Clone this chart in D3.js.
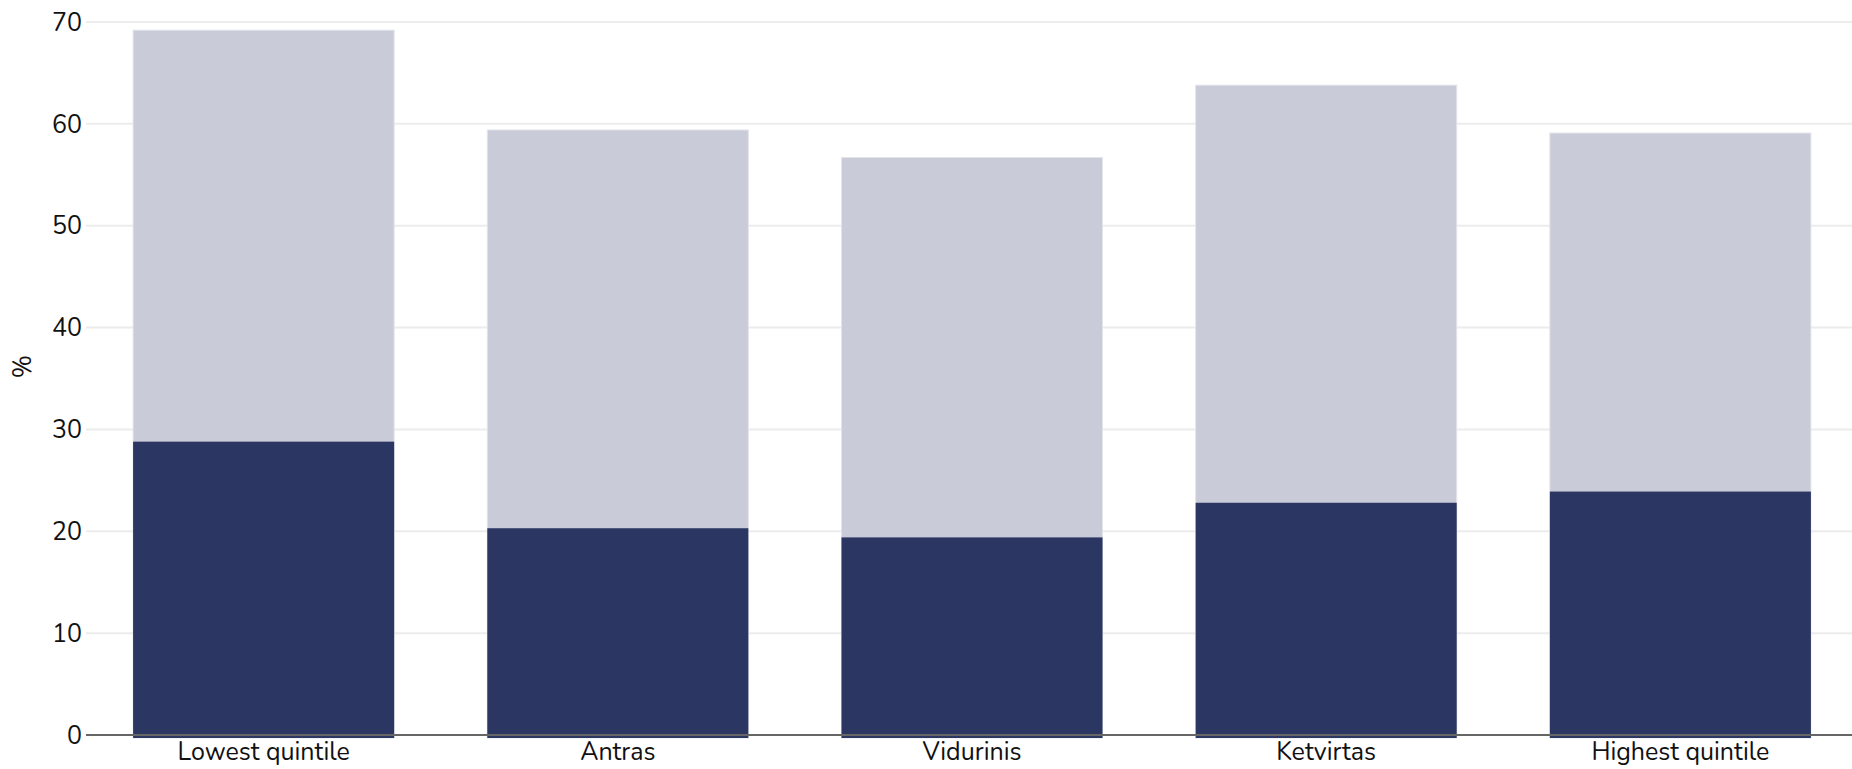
<!DOCTYPE html>
<html>
<head>
<meta charset="utf-8">
<script src="https://cdn.jsdelivr.net/npm/d3@7"></script>
<style>
  body { margin: 0; background: #fff; }
  svg { display: block; font-family: "Nunito", "Lato", "Noto Sans", sans-serif; }
</style>
</head>
<body>
<svg id="chart"></svg>
<script>
// data
const categories = ["Lowest quintile", "Antras", "Vidurinis", "Ketvirtas", "Highest quintile"];
const totalValues = [69.2, 59.4, 56.7, 63.8, 59.1];
const partValues = [28.8, 20.3, 19.4, 22.8, 23.9];
const yTicks = [0, 10, 20, 30, 40, 50, 60, 70];

const width = 1852, height = 769;
const margin = { top: 22, right: -6, bottom: 34, left: 86 };

const svg = d3.select('#chart').attr('width', width).attr('height', height);

const x = d3.scaleBand()
    .domain(categories)
    .range([margin.left, width - margin.right])
    .paddingInner(0.263)
    .paddingOuter(0.133);

const y = d3.scaleLinear()
    .domain([0, 70])
    .range([height - margin.bottom, margin.top]);

// gridlines
svg.append('g')
    .selectAll('line')
    .data(yTicks.filter(d => d > 0))
    .enter()
    .append('line')
    .attr('x1', margin.left)
    .attr('x2', width)
    .attr('y1', d => y(d))
    .attr('y2', d => y(d))
    .attr('stroke', '#ececec')
    .attr('stroke-width', 2);

// tick labels
svg.append('g')
    .selectAll('text')
    .data(yTicks)
    .enter()
    .append('text')
    .attr('x', margin.left - 4)
    .attr('y', d => y(d))
    .attr('dy', '0.35em')
    .attr('text-anchor', 'end')
    .style('font-size', '25px')
    .style('fill', '#111')
    .text(d => d);

// y title
svg.append('text')
    .attr('transform', `translate(22, ${(margin.top + height - margin.bottom) / 2 - 12}) rotate(-90)`)
    .attr('dy', '0.35em')
    .attr('text-anchor', 'middle')
    .style('font-size', '25px')
    .style('fill', '#111')
    .text('%');

// total bars (light)
svg.append('g')
    .selectAll('rect')
    .data(categories)
    .enter()
    .append('rect')
    .attr('x', d => x(d))
    .attr('width', x.bandwidth())
    .attr('y', (d, i) => y(totalValues[i]))
    .attr('height', (d, i) => y(0) - y(totalValues[i]) + 3)
    .attr('fill', '#c9ccd8')
    .attr('stroke', '#e2e4ea')
    .attr('stroke-width', 1);

// part bars (dark)
svg.append('g')
    .selectAll('rect')
    .data(categories)
    .enter()
    .append('rect')
    .attr('x', d => x(d))
    .attr('width', x.bandwidth())
    .attr('y', (d, i) => y(partValues[i]))
    .attr('height', (d, i) => y(0) - y(partValues[i]) + 3)
    .attr('fill', '#2b3663');

// baseline
svg.append('line')
    .attr('x1', margin.left)
    .attr('x2', width)
    .attr('y1', y(0))
    .attr('y2', y(0))
    .attr('stroke', '#666')
    .attr('stroke-width', 2);

// x labels
svg.append('g')
    .selectAll('text')
    .data(categories)
    .enter()
    .append('text')
    .attr('x', d => x(d) + x.bandwidth() / 2)
    .attr('y', height - 9)
    .attr('text-anchor', 'middle')
    .style('font-size', '25px')
    .style('fill', '#111')
    .text(d => d);
</script>
</body>
</html>
